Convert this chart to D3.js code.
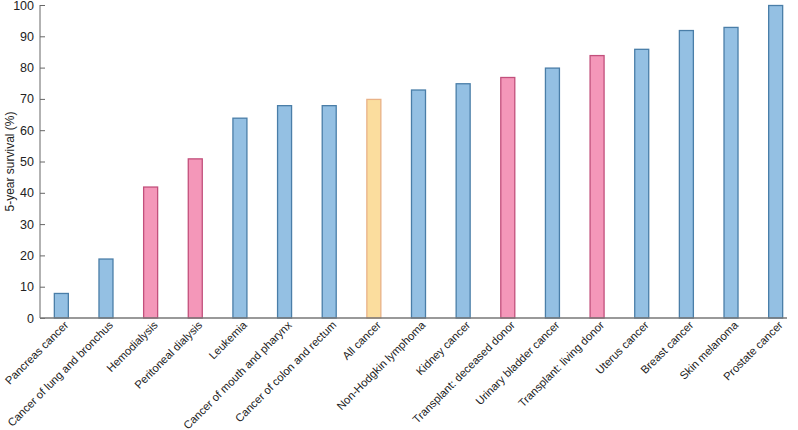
<!DOCTYPE html>
<html>
<head>
<meta charset="utf-8">
<script src="https://cdn.jsdelivr.net/npm/d3@7"></script>
<style>
  body { margin: 0; background: #fff; }
  text { font-family: "Liberation Sans", Arial, sans-serif; }
</style>
</head>
<body>
<div id="chart"></div>
<script>
const categories = [
    "Pancreas cancer", "Cancer of lung and bronchus", "Hemodialysis", "Peritoneal dialysis",
    "Leukemia", "Cancer of mouth and pharynx", "Cancer of colon and rectum", "All cancer",
    "Non-Hodgkin lymphoma", "Kidney cancer", "Transplant: deceased donor", "Urinary bladder cancer",
    "Transplant: living donor", "Uterus cancer", "Breast cancer", "Skin melanoma", "Prostate cancer"
];
const survival = [8, 19, 42, 51, 64, 68, 68, 70, 73, 75, 77, 80, 84, 86, 92, 93, 100];
const groups = ["cancer", "cancer", "kidney", "kidney", "cancer", "cancer", "cancer", "all",
    "cancer", "cancer", "kidney", "cancer", "kidney", "cancer", "cancer", "cancer", "cancer"];
const yTicks = [0, 10, 20, 30, 40, 50, 60, 70, 80, 90, 100];

const fills = { cancer: "#94c0e3", kidney: "#f497b9", all: "#fbdd9e" };
const strokes = { cancer: "#4a7ea8", kidney: "#c2507c", all: "#e9b287" };

const width = 798, height = 430;
const svg = d3.select("#chart").append("svg")
    .attr("width", width)
    .attr("height", height);

const x = d3.scaleBand()
    .domain(categories)
    .range([40, 797])
    .paddingInner(0.664)
    .paddingOuter(0.31);

const y = d3.scaleLinear()
    .domain([0, 100])
    .range([318, 5]);

// bars
svg.selectAll(".bar")
    .data(categories.map((c, i) => ({ cat: c, v: survival[i], g: groups[i] })))
    .enter()
    .append("rect")
    .attr("class", "bar")
    .attr("x", d => x(d.cat) + 0.5)
    .attr("y", d => y(d.v) + 0.5)
    .attr("width", x.bandwidth() - 1)
    .attr("height", d => y(0) - y(d.v) - 0.5)
    .style("fill", d => fills[d.g])
    .style("stroke", d => strokes[d.g])
    .style("stroke-width", 1.3);

// y axis (ticks point inward)
const yAxis = svg.append("g")
    .attr("transform", "translate(40,0)")
    .call(d3.axisRight(y).tickValues(yTicks).tickSize(5).tickFormat(d3.format("d")));
yAxis.select(".domain").remove();
yAxis.selectAll(".tick line").attr("stroke", "#666");
yAxis.selectAll(".tick text")
    .attr("x", -6)
    .style("text-anchor", "end")
    .style("font-size", "12.5px")
    .attr("fill", "#222");

svg.append("line")
    .attr("x1", 40).attr("x2", 40)
    .attr("y1", y(100)).attr("y2", y(0))
    .attr("stroke", "#666");

// x axis
const xAxis = svg.append("g")
    .attr("transform", `translate(0,${y(0)})`)
    .call(d3.axisBottom(x).tickSize(0));
xAxis.select(".domain").remove();
xAxis.selectAll(".tick text")
    .attr("transform", "translate(5,5) rotate(-45)")
    .attr("dy", "0.35em")
    .attr("y", 0)
    .style("text-anchor", "end")
    .style("font-size", "11.2px")
    .attr("fill", "#222");

svg.append("line")
    .attr("x1", 40).attr("x2", 787)
    .attr("y1", y(0)).attr("y2", y(0))
    .attr("stroke", "#777")
    .attr("stroke-width", 1.3);

// y title
svg.append("text")
    .attr("transform", `translate(14,${y(50)}) rotate(-90)`)
    .style("text-anchor", "middle")
    .style("font-size", "12px")
    .attr("fill", "#222")
    .text("5-year survival (%)");
</script>
</body>
</html>
